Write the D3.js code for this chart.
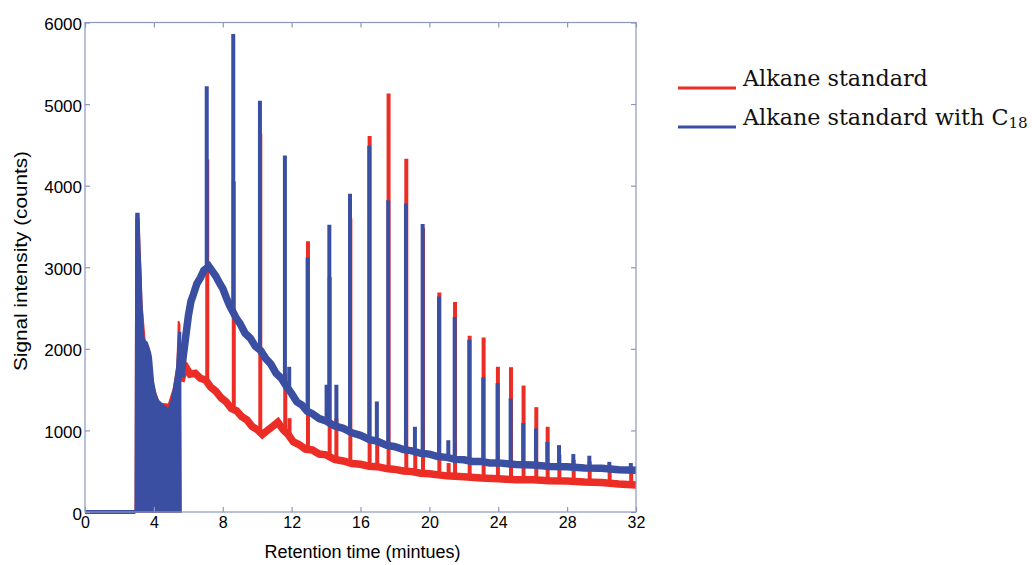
<!DOCTYPE html>
<html><head><meta charset="utf-8">
<script src="https://cdn.jsdelivr.net/npm/d3@7"></script>
<style>body{margin:0;background:#fff}svg{display:block}</style>
</head><body><svg id="c" width="1032" height="565"></svg>
<script>
// ---------- data ----------
const xTicks = [0,4,8,12,16,20,24,28,32];
const yTicks = [0,1000,2000,3000,4000,5000,6000];
const seriesNames = ["Alkane standard", "Alkane standard with C"];

// flat start (solvent delay)
const redStart  = [[0,0],[2.92,0]];
const blueStart = [[0,0],[2.92,0]];

// densely oscillating solvent region: upper envelope [t, counts]
const redBurst = [[2.92,0],[2.96,3600],[3.12,3600],[3.2,3150],[3.3,2550],[3.5,2050],[3.75,1950],[3.97,1550],[4.3,1330],[4.85,1320],[5.15,1520],[5.35,1800],[5.43,2340],[5.5,2300],[5.57,0]];
const blueBurst = [[2.92,0],[2.96,3660],[3.13,3660],[3.18,3230],[3.25,2900],[3.29,2600],[3.4,2150],[3.48,2100],[3.6,2080],[3.73,2000],[3.8,1950],[3.85,1900],[3.97,1600],[4.1,1450],[4.26,1370],[4.6,1300],[4.84,1260],[5.0,1350],[5.13,1500],[5.32,1740],[5.45,2200],[5.55,2200],[5.57,0]];

// baselines [t, counts]
const redLine = [[5.57,1600],[5.7,1700],[5.9,1760],[6.1,1690],[6.4,1700],[6.7,1640],[7.0,1620],[7.3,1530],[7.6,1480],[7.9,1400],[8.2,1350],[8.5,1270],[8.8,1240],[9.1,1170],[9.4,1130],[9.7,1050],[10.0,1010],[10.3,950],[10.6,1000],[10.9,1050],[11.2,1100],[11.5,1010],[11.8,950],[12.1,860],[12.4,830],[12.8,770],[13.2,760],[13.6,710],[14.0,700],[14.5,645],[15.0,625],[15.5,595],[16.0,585],[16.5,562],[17.0,556],[17.5,532],[18.0,522],[18.5,502],[19.0,495],[19.5,475],[20.0,468],[21.0,443],[22.0,432],[23.0,416],[24.0,407],[25.0,396],[26.0,394],[27.0,383],[28.0,380],[29.0,368],[30.0,362],[31.0,343],[32.0,330]];
const blueLine = [[5.57,1650],[5.7,1900],[5.85,2150],[6.0,2400],[6.15,2580],[6.3,2670],[6.5,2800],[6.7,2870],[6.9,2960],[7.2,3010],[7.4,2950],[7.6,2890],[7.8,2810],[8.0,2740],[8.2,2630],[8.4,2530],[8.8,2370],[9.0,2310],[9.3,2190],[9.6,2130],[9.9,2030],[10.2,1980],[10.5,1880],[10.8,1810],[11.1,1700],[11.4,1640],[11.7,1540],[12.0,1450],[12.3,1350],[12.6,1310],[12.9,1235],[13.2,1205],[13.6,1145],[14.0,1115],[14.5,1055],[15.0,1025],[15.5,970],[16.0,940],[16.5,890],[17.0,865],[17.5,820],[18.0,800],[18.5,765],[19.0,750],[19.5,720],[20.0,710],[20.5,680],[21.0,670],[21.5,645],[22.0,640],[22.5,620],[23.0,620],[23.5,600],[24.0,602],[25.0,582],[26.0,575],[27.0,558],[28.0,555],[29.0,538],[30.0,535],[31.0,518],[32.0,512]];

// peaks [t, base, top]
const redPeaks = [[7.1,1600,4320],[8.64,1270,4050],[10.18,980,4640],[11.63,990,1700],[11.88,930,1150],[12.95,765,3320],[14.21,685,2880],[14.6,645,1150],[15.41,600,3600],[16.53,565,4610],[16.97,552,850],[17.63,534,5130],[18.66,508,4330],[19.18,490,700],[19.63,478,3480],[20.58,458,2690],[21.12,444,600],[21.49,440,2575],[22.34,430,2160],[23.15,418,2140],[23.98,406,1780],[24.74,400,1775],[25.47,397,1550],[26.21,392,1285],[26.87,387,1045],[27.55,383,700],[28.38,377,640],[29.31,368,620],[30.47,357,570],[31.72,340,560]];
const bluePeaks = [[7.07,2990,5220],[8.61,2450,5860],[10.16,1960,5040],[11.61,1570,4370],[11.86,1500,1780],[12.93,1240,3120],[14.03,1115,1560],[14.19,1100,3520],[14.6,1055,1560],[15.39,985,3900],[16.51,895,4490],[16.95,860,1355],[17.61,820,3820],[18.64,765,3780],[19.16,740,1045],[19.61,720,3530],[20.56,683,2640],[21.1,662,880],[21.47,651,2390],[22.32,628,2110],[23.13,613,1650],[23.96,599,1580],[24.72,588,1390],[25.45,580,1090],[26.19,570,1025],[26.85,564,860],[27.53,557,820],[28.36,548,710],[29.29,539,690],[30.45,527,615],[31.7,515,600]];

// ---------- drawing ----------
const RED = "#ec2d26", BLUE = "#3a4ea2", FRAME = "#8a98bf";
const L = 85, R = 636, T = 22.5, B = 512;
const svg = d3.select("#c");
const x = d3.scaleLinear().domain([0,32]).range([L,R]);
const y = d3.scaleLinear().domain([0,6000]).range([B,T]);

const plot = svg.append("g");
const line = d3.line().x(d=>x(d[0])).y(d=>y(d[1]));
const area = d3.area().x(d=>x(d[0])).y0(y(0)).y1(d=>y(d[1]));

function drawSeries(start, burst, base, peaks, color){
  const g = plot.append("g");
  g.append("path").attr("d", line(start)).attr("fill","none").attr("stroke",color).attr("stroke-width",4);
  g.append("path").attr("d", area(burst)).attr("fill",color).attr("stroke",color).attr("stroke-width",1.5);
  g.append("path").attr("d", line(base)).attr("fill","none").attr("stroke",color).attr("stroke-width",7.5).attr("stroke-linejoin","miter");
  g.selectAll("line.pk").data(peaks).enter().append("line")
    .attr("x1",d=>x(d[0])).attr("x2",d=>x(d[0]))
    .attr("y1",d=>y(d[1])).attr("y2",d=>y(d[2]))
    .attr("stroke",color).attr("stroke-width",4);
}
drawSeries(redStart, redBurst, redLine, redPeaks, RED);
drawSeries(blueStart, blueBurst, blueLine, bluePeaks, BLUE);

// frame
svg.append("rect").attr("x",L).attr("y",T).attr("width",R-L).attr("height",B-T)
  .attr("fill","none").attr("stroke",FRAME).attr("stroke-width",1.2);

function styleAxis(g){
  g.select(".domain").remove();
  g.selectAll(".tick line").attr("stroke",FRAME).attr("stroke-width",1.2);
  g.selectAll(".tick text").attr("fill","#000");
}
const font = "Liberation Sans, Arial, sans-serif";
const xb = svg.append("g").attr("transform",`translate(0,${B})`)
  .call(d3.axisBottom(x).tickValues(xTicks).tickSizeInner(-5).tickSizeOuter(0).tickPadding(5).tickFormat(d3.format("d")));
xb.attr("font-family",font).attr("font-size",16); styleAxis(xb);
const xt = svg.append("g").attr("transform",`translate(0,${T})`)
  .call(d3.axisTop(x).tickValues(xTicks).tickSizeInner(-5).tickSizeOuter(0).tickFormat(""));
styleAxis(xt);
const yl = svg.append("g").attr("transform",`translate(${L},0)`)
  .call(d3.axisLeft(y).tickValues(yTicks).tickSizeInner(-5).tickSizeOuter(0).tickPadding(3).tickFormat(d3.format("d")));
yl.attr("font-family",font).attr("font-size",17); styleAxis(yl);
yl.selectAll(".tick text").attr("dy","0.42em");
const yr = svg.append("g").attr("transform",`translate(${R},0)`)
  .call(d3.axisRight(y).tickValues(yTicks).tickSizeInner(-5).tickSizeOuter(0).tickFormat(""));
styleAxis(yr);

// axis titles
svg.append("text").attr("x",(L+R)/2+2).attr("y",558).attr("text-anchor","middle")
  .attr("font-family",font).attr("font-size",18).text("Retention time (mintues)");
svg.append("text").attr("transform","translate(27,261) rotate(-90)").attr("text-anchor","middle")
  .attr("font-family",font).attr("font-size",18).attr("textLength",220).attr("lengthAdjust","spacingAndGlyphs")
  .text("Signal intensity (counts)");

// legend
const serif = "DejaVu Serif, Liberation Serif, serif";
const colors = [RED, BLUE];
const lg = svg.append("g");
seriesNames.forEach((name,i)=>{
  const yy = [88,127][i];
  lg.append("line").attr("x1",678).attr("x2",736).attr("y1",yy).attr("y2",yy)
    .attr("stroke",colors[i]).attr("stroke-width",3);
  const t = lg.append("text").attr("x",743).attr("y",yy-2).attr("font-family",serif).attr("font-size",22).attr("fill","#111");
  t.append("tspan").text(name);
  if(i===1){ t.append("tspan").attr("font-size",15).attr("dy",3).text("18"); }
});
// fit legend text width to the reference (first label ~185px)
const first = lg.select("text").node();
const w = first.getComputedTextLength();
const fs = 22*185/w;
lg.selectAll("text").attr("font-size",fs);
lg.selectAll("text tspan:nth-child(2)").attr("font-size",fs*0.68);
</script></body></html>
